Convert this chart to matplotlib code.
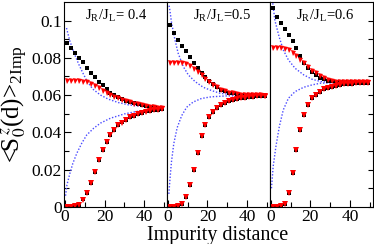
import numpy as np
import matplotlib
matplotlib.use("Agg")
import matplotlib.pyplot as plt
from matplotlib.ticker import FixedLocator, FixedFormatter

plt.rcParams['font.family'] = ['Liberation Serif', 'DejaVu Serif']
plt.rcParams['mathtext.fontset'] = 'stix'

d = list(range(1, 50, 2))

panel_labels = ['J$_\\mathregular{R}$/J$_\\mathregular{L}$= 0.4',
                'J$_\\mathregular{R}$/J$_\\mathregular{L}$=0.5',
                'J$_\\mathregular{R}$/J$_\\mathregular{L}$=0.6']

# ---- panel 1: J_R/J_L = 0.4
black_up_04 = [0.0879, 0.0852, 0.0825, 0.0800, 0.0778, 0.0745, 0.0718, 0.0695, 0.0672, 0.0652,
               0.0632, 0.0614, 0.0600, 0.0588, 0.0578, 0.0570, 0.0562, 0.0556, 0.0550, 0.0545,
               0.0540, 0.0537, 0.0534, 0.0531, 0.0529]
red_up_04 = [0.0676, 0.0676, 0.0675, 0.0674, 0.0672, 0.0668, 0.0659, 0.0648, 0.0637, 0.0624,
             0.0612, 0.0601, 0.0592, 0.0583, 0.0575, 0.0567, 0.0561, 0.0555, 0.0550, 0.0546,
             0.0542, 0.0538, 0.0535, 0.0533, 0.0531]
red_lo_04 = [0.0, 0.0, 0.0003, 0.0010, 0.0038, 0.0073, 0.0127, 0.0190, 0.0252, 0.0306,
             0.0350, 0.0386, 0.0413, 0.0440, 0.0453, 0.0467, 0.0481, 0.0490, 0.0500, 0.0506,
             0.0512, 0.0515, 0.0519, 0.0522, 0.0525]
black_lo_04 = [0.0, 0.0, 0.0003, 0.0010, 0.0040, 0.0074, 0.0130, 0.0190, 0.0253, 0.0306,
               0.0351, 0.0386, 0.0414, 0.0440, 0.0454, 0.0467, 0.0482, 0.0490, 0.0501, 0.0506,
               0.0513, 0.0515, 0.0520, 0.0522, 0.0526]
blue_up_d_04 = [0.8, 1.5, 2.5, 3.5, 5, 7, 9, 11, 14, 18, 22, 27, 32, 38, 44, 50]
blue_up_04 = [0.096, 0.093, 0.089, 0.086, 0.0816, 0.0765, 0.0720, 0.0678, 0.0633, 0.0600,
              0.0578, 0.0560, 0.0548, 0.0540, 0.0535, 0.0532]
blue_lo_d_04 = [0.3, 1, 2.5, 4, 6, 8.5, 11, 14.5, 18, 23, 30, 36, 43, 50]
blue_lo_04 = [0.0060, 0.0118, 0.0180, 0.0234, 0.0288, 0.0342, 0.0386, 0.0422, 0.0450, 0.0476,
              0.0499, 0.0512, 0.0520, 0.0525]

# ---- panel 2: J_R/J_L = 0.5
black_up_05 = [0.0977, 0.0935, 0.0897, 0.0866, 0.0835, 0.0805, 0.0772, 0.0745, 0.0720, 0.0697,
               0.0677, 0.0658, 0.0641, 0.0630, 0.0621, 0.0614, 0.0609, 0.0605, 0.0602, 0.0601,
               0.0600, 0.0599, 0.0599, 0.0598, 0.0598]
red_up_05 = [0.0775, 0.0775, 0.0774, 0.0772, 0.0767, 0.0758, 0.0742, 0.0725, 0.0706, 0.0688,
             0.0670, 0.0654, 0.0641, 0.0630, 0.0621, 0.0614, 0.0609, 0.0605, 0.0602, 0.0601,
             0.0600, 0.0599, 0.0598, 0.0598, 0.0597]
red_lo_05 = [0.0, 0.0, 0.0003, 0.0016, 0.0055, 0.0115, 0.0200, 0.0290, 0.0380, 0.0440,
             0.0480, 0.0508, 0.0530, 0.0545, 0.0557, 0.0566, 0.0573, 0.0579, 0.0583, 0.0586,
             0.0589, 0.0591, 0.0593, 0.0594, 0.0595]
black_lo_05 = [0.0, 0.0, 0.0003, 0.0016, 0.0055, 0.0116, 0.0200, 0.0291, 0.0380, 0.0441,
               0.0480, 0.0509, 0.0530, 0.0546, 0.0557, 0.0567, 0.0573, 0.0580, 0.0583, 0.0587,
               0.0589, 0.0592, 0.0593, 0.0595, 0.0595]
blue_up_d_05 = [0.6, 1.0, 1.9, 3.6, 5.2, 7.8, 10.3, 13.7, 17.9, 22.2, 26.4, 34, 42, 50]
blue_up_05 = [0.1080, 0.1057, 0.0986, 0.0896, 0.0825, 0.0753, 0.0709, 0.0673, 0.0642, 0.0624,
              0.0610, 0.0601, 0.0598, 0.0597]
blue_lo_d_05 = [0.5, 1, 1.8, 3, 4.7, 7, 9.5, 12.8, 17, 22, 30, 40, 50]
blue_lo_05 = [0.0070, 0.0140, 0.0240, 0.0340, 0.0425, 0.0490, 0.0535, 0.0563, 0.0582, 0.0591,
              0.0596, 0.0597, 0.0597]

# ---- panel 3: J_R/J_L = 0.6
black_up_06 = [0.1066, 0.1020, 0.0985, 0.0955, 0.0925, 0.0893, 0.0855, 0.0812, 0.0775, 0.0748,
               0.0726, 0.0709, 0.0694, 0.0684, 0.0678, 0.0675, 0.0673, 0.0672, 0.0671, 0.0671,
               0.0670, 0.0670, 0.0670, 0.0670, 0.0670]
red_up_06 = [0.0852, 0.0852, 0.0851, 0.0850, 0.0843, 0.0825, 0.0810, 0.0789, 0.0771, 0.0753,
             0.0732, 0.0718, 0.0703, 0.0690, 0.0682, 0.0676, 0.0672, 0.0670, 0.0669, 0.0669,
             0.0669, 0.0668, 0.0668, 0.0668, 0.0668]
red_lo_06 = [0.0, 0.0002, 0.0005, 0.0016, 0.0073, 0.0180, 0.0306, 0.0413, 0.0494, 0.0547,
             0.0583, 0.0601, 0.0619, 0.0633, 0.0640, 0.0646, 0.0650, 0.0655, 0.0658, 0.0660,
             0.0662, 0.0663, 0.0664, 0.0665, 0.0665]
black_lo_06 = [0.0, 0.0002, 0.0005, 0.0016, 0.0073, 0.0180, 0.0306, 0.0413, 0.0494, 0.0547,
               0.0583, 0.0601, 0.0618, 0.0632, 0.0639, 0.0646, 0.0651, 0.0655, 0.0659, 0.0661,
               0.0662, 0.0664, 0.0665, 0.0666, 0.0666]
blue_up_d_06 = [0.8, 2.1, 4.2, 6.3, 8.9, 12.3, 16.6, 20.9, 25.2, 30, 38, 50]
blue_up_06 = [0.1110, 0.1000, 0.0914, 0.0843, 0.0789, 0.0744, 0.0709, 0.0685, 0.0673, 0.0669,
              0.0668, 0.0668]
blue_lo_d_06 = [0.35, 1.2, 2.6, 4.3, 6.3, 8.9, 12.3, 16.6, 20.9, 25.2, 35, 50]
blue_lo_06 = [0.0100, 0.0216, 0.0324, 0.0430, 0.0520, 0.0583, 0.0619, 0.0642, 0.0655, 0.0664,
              0.0667, 0.0668]

panels = [
    (black_up_04, red_up_04, black_lo_04, red_lo_04, blue_up_d_04, blue_up_04, blue_lo_d_04, blue_lo_04),
    (black_up_05, red_up_05, black_lo_05, red_lo_05, blue_up_d_05, blue_up_05, blue_lo_d_05, blue_lo_05),
    (black_up_06, red_up_06, black_lo_06, red_lo_06, blue_up_d_06, blue_up_06, blue_lo_d_06, blue_lo_06),
]

y_ticks = [0, 0.02, 0.04, 0.06, 0.08, 0.1]
y_ticklabels = ['0', '0.02', '0.04', '0.06', '0.08', '0.1']
x_ticks = [0, 20, 40]
x_ticklabels = ['0', '20', '40']

fig = plt.figure(figsize=(3.74, 2.44), dpi=100)
axes = fig.subplots(1, 3, sharey=True)
fig.subplots_adjust(left=0.171, right=0.9965, top=0.992, bottom=0.152, wspace=0)

blue = '#4a4aff'
for i, (ax, p) in enumerate(zip(axes, panels)):
    bu, ru, bl, rl, bud, buv, bld, blv = p
    ax.plot(bud, buv, linestyle=(0, (1, 1.3)), color=blue, lw=1.0)
    ax.plot(bld, blv, linestyle=(0, (1, 1.3)), color=blue, lw=1.0)
    ax.plot(d, bu, 's', color='black', ms=2.5, mew=0)
    ax.plot(d, bl, 's', color='black', ms=2.2, mew=0)
    ax.plot(d, ru, 'v', color='red', ms=3.6, mew=0)
    ax.plot(d, rl, 'v', color='red', ms=3.9, mew=0)
    ax.set_xlim(-0.5, 51.5)
    ax.set_ylim(0, 0.11)
    ax.xaxis.set_major_locator(FixedLocator(x_ticks))
    ax.xaxis.set_major_formatter(FixedFormatter(x_ticklabels))
    ax.xaxis.set_minor_locator(FixedLocator([10, 30, 50]))
    ax.yaxis.set_major_locator(FixedLocator(y_ticks))
    ax.yaxis.set_major_formatter(FixedFormatter(y_ticklabels))
    ax.yaxis.set_minor_locator(FixedLocator([0.01, 0.03, 0.05, 0.07, 0.09]))
    ax.tick_params(axis='x', which='both', direction='in', top=False, bottom=True,
                   labelsize=12.5, pad=1.5)
    ax.tick_params(axis='x', which='major', length=5, width=0.8)
    ax.tick_params(axis='x', which='minor', length=3.5, width=0.8)
    if i == 0:
        ax.tick_params(axis='y', which='both', direction='in', left=True, right=False,
                       labelsize=12.5, pad=1.5)
        ax.tick_params(axis='y', which='major', length=5, width=0.8)
        ax.tick_params(axis='y', which='minor', length=3.5, width=0.8)
    elif i == 1:
        ax.tick_params(axis='y', which='both', left=False, right=False, labelleft=False)
    else:
        ax.tick_params(axis='y', which='both', direction='in', left=False, right=True,
                       labelleft=False, labelright=False, length=3.5, width=0.8)
    for s in ax.spines.values():
        s.set_linewidth(0.8)
    ax.text(0.2 if i == 0 else 0.25, 0.93, panel_labels[i], transform=ax.transAxes,
            fontsize=10.5, ha='left', va='center')

axes[0].set_ylabel('<S$_0^{\\,z}$(d)>$_{\\mathregular{2Imp}}$', fontsize=18, labelpad=2)
fig.text(0.583, 0.035, 'Impurity distance', fontsize=14.5, ha='center', va='center')

fig.savefig('out.png', dpi=100)
